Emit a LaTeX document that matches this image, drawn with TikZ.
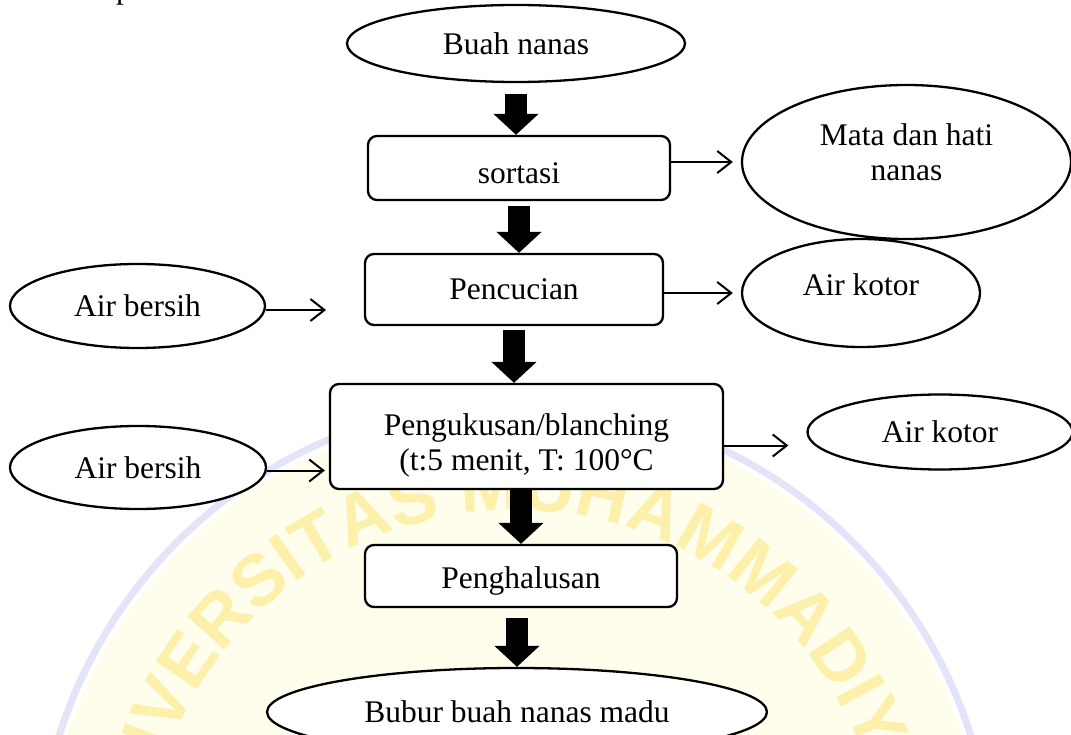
\documentclass[tikz,border=0pt]{standalone}
\usepackage{fontspec}
\setmainfont{Liberation Serif}
\newfontfamily\wmfont{Liberation Sans}
\usetikzlibrary{arrows.meta,shapes.geometric,decorations.text}

\definecolor{wmcream}{RGB}{255,253,236}
\definecolor{wmlav}{RGB}{228,228,248}
\definecolor{wmyellow}{RGB}{252,240,170}

\tikzset{
  every node/.style={font=\fontsize{31.5}{35}\selectfont, inner sep=0pt, align=center},
  stepbox/.style={draw, fill=white, line width=2.3pt, rounded corners=9pt, rectangle},
  term/.style={draw, fill=white, line width=2.3pt, ellipse},
  flow/.style={line width=2pt, -{Straight Barb[length=14pt,width=22pt,line width=2pt]}},
  bigarrow/.style={line width=22pt, -{Triangle[length=21pt,width=44pt]}},
}

\begin{document}
\begin{tikzpicture}[x=1pt,y=-1pt]
\useasboundingbox (0,0) rectangle (1071,735);

% faint emblem in the background
\begin{scope}
  \clip (0,0) rectangle (1071,735);
  \fill[wmcream] (515,880) circle (470);
  \draw[wmlav, line width=7pt] (515,880) circle (478);
  \path[decorate, decoration={text along path, text align=center,
        text={|\wmfont\bfseries\fontsize{72}{72}\selectfont\color{wmyellow}|UNIVERSITAS MUHAMMADIYAH}}]
    (515,880) ++(188:370) arc[start angle=188, end angle=352, radius=370];
\end{scope}

% tail of the line above
\node[anchor=base west] (prev) at (116,-1) {p};

% process steps (shapes)
\node[term, minimum width=338pt, minimum height=77pt] (buah) at (516,43.5) {Buah nanas};
\node[stepbox, minimum width=302pt, minimum height=64pt] (sortasi) at (519,168) {};
\node[term, minimum width=329pt, minimum height=154pt] (mata) at (906.5,162) {};
\node[stepbox, minimum width=298pt, minimum height=71pt] (cuci) at (514,289.5) {Pencucian};
\node[term, minimum width=238pt, minimum height=108pt] (kotor1) at (861,293) {};
\node[term, minimum width=255pt, minimum height=84pt] (bersih1) at (137.5,306) {Air bersih};
\node[stepbox, minimum width=393pt, minimum height=105pt] (kukus) at (526.5,436.5) {};
\node[term, minimum width=256pt, minimum height=83pt] (bersih2) at (138,467.5) {Air bersih};
\node[term, minimum width=265pt, minimum height=75pt] (kotor2) at (940,432) {Air kotor};
\node[stepbox, minimum width=312pt, minimum height=62pt] (halus) at (521,576) {};
\node[term, minimum width=500pt, minimum height=88pt] (bubur) at (517,712) {Bubur buah nanas madu};

% labels set slightly off the shape centres
\node (sortasiT) at (519,173) {sortasi};
\node (mataT) at (906.5,152) {Mata dan hati\\nanas};
\node (kotor1T) at (861,285) {Air kotor};
\node (kukusT) at (526.5,445.5) {Pengukusan/blanching\\(t:5 menit, T: 100°C};
\node (halusT) at (521,581) {Penghalusan};

\coordinate (inlet) at (326,310);

% main flow
\draw[bigarrow, shorten <=11pt] (buah.south) -- (buah.south |- sortasi.north);
\draw[bigarrow, shorten <=5pt] (sortasi.south) -- (sortasi.south |- cuci.north);
\draw[bigarrow, shorten <=4pt] (cuci.south) -- (cuci.south |- kukus.north);
\draw[bigarrow] (halus.north |- kukus.south) -- (halus.north);
\draw[bigarrow, shorten <=10pt] (bubur.north |- halus.south) -- (bubur.north);

% inputs and outputs
\draw[flow, shorten >=8pt] (sortasi.east |- mata.west) -- (mata.west);
\draw[flow, shorten >=8pt] (cuci.east |- kotor1.west) -- (kotor1.west);
\draw[flow] (bersih1.east |- inlet) -- (inlet);
\draw[flow, shorten >=4pt] ([yshift=-3pt]bersih2.east) -- ([yshift=-3pt]bersih2.east -| kukus.west);
\draw[flow, shorten >=18pt] ([yshift=-9pt]kukus.east) -- ([yshift=-9pt]kukus.east -| kotor2.west);
\end{tikzpicture}
\end{document}
